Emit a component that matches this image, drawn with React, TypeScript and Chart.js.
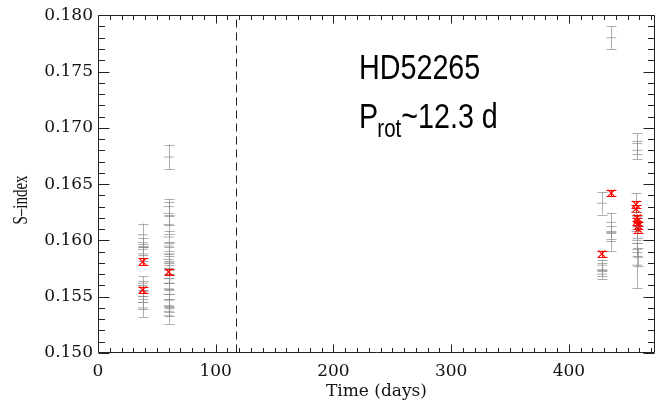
import { useEffect, useRef } from "react";
import { Chart, registerables } from "chart.js";

Chart.register(...registerables);

// ---- Data ----
const grayTime = [
  38, 38, 38, 38, 38, 38, 38, 38, 38,
  60, 60, 60, 60, 60, 60, 60, 60, 60, 60, 60, 60, 60, 60, 60, 60, 60, 60,
  436, 428, 436, 436, 436, 428, 428, 428,
  458, 458, 457, 458, 458, 458, 459, 458,
];
const grayS = [
  0.1605, 0.1598, 0.1592, 0.1588, 0.1562, 0.1560, 0.155, 0.1545, 0.154,
  0.1674, 0.163, 0.1624, 0.1614, 0.1603, 0.1595, 0.1588, 0.1583, 0.158, 0.1575, 0.1566, 0.1562, 0.1557, 0.1552, 0.1547, 0.1542, 0.1537, 0.1533,
  0.178, 0.1633, 0.1616, 0.1607, 0.1599, 0.1578, 0.1574, 0.157,
  0.1686, 0.168, 0.1625, 0.1612, 0.16, 0.1592, 0.1585, 0.1578,
];
const grayErr = [
  0.001, 0.0004, 0.0005, 0.0006, 0.0006, 0.0004, 0.0005, 0.0006, 0.0008,
  0.0011, 0.0007, 0.001, 0.0008, 0.0005, 0.0004, 0.0006, 0.0005, 0.0006, 0.0005, 0.0004, 0.0005, 0.0005, 0.0004, 0.0005, 0.0006, 0.0004, 0.0007,
  0.001, 0.001, 0.0008, 0.0006, 0.0008, 0.0005, 0.0006, 0.0004,
  0.0009, 0.0008, 0.0017, 0.001, 0.001, 0.0006, 0.0008, 0.002,
];
const redTime = [38, 38, 60, 428, 436, 457, 457, 458, 458, 459, 459];
const redS = [0.1581, 0.1556, 0.1572, 0.1588, 0.1642, 0.1632, 0.1628, 0.162, 0.1617, 0.1613, 0.161];
const redErr = [0.0003, 0.0003, 0.0003, 0.0003, 0.0003, 0.0003, 0.0003, 0.0003, 0.0003, 0.0003, 0.0003];

const xTickValues = [0, 100, 200, 300, 400];
const yTickValues = [0.15, 0.155, 0.16, 0.165, 0.17, 0.175, 0.18];
const xMinorStep = 10;
const yMinorStep = 0.001;
const xMin = 0;
const xMax = 473;
const yMin = 0.15;
const yMax = 0.18;
const dividerTime = 117.5;

const starName = "HD52265";
const periodMain = "P";
const periodSub = "rot";
const periodRest = "~12.3 d";
const xTitle = "Time (days)";
const yTitle = "S–index";

const GRAY = "rgba(140,140,140,0.7)";
const RED = "rgb(255,0,0)";

const errorBarPlugin = {
  id: "errorBars",
  beforeDatasetsDraw(chart: any) {
    const ctx = chart.ctx;
    const xs = chart.scales.x;
    const ys = chart.scales.y;
    chart.data.datasets.forEach((ds: any) => {
      const errs: number[] = ds.errorBars || [];
      ctx.save();
      ctx.strokeStyle = ds.barColor;
      ctx.lineWidth = 1;
      ds.data.forEach((p: any, i: number) => {
        const e = errs[i] || 0;
        const px = Math.round(xs.getPixelForValue(p.x)) + 0.5;
        const y1 = ys.getPixelForValue(p.y - e);
        const y2 = ys.getPixelForValue(p.y + e);
        const cw = ds.capHalf;
        ctx.beginPath();
        ctx.moveTo(px, y1);
        ctx.lineTo(px, y2);
        ctx.moveTo(px - cw, Math.round(y1) + 0.5);
        ctx.lineTo(px + cw, Math.round(y1) + 0.5);
        ctx.moveTo(px - cw, Math.round(y2) + 0.5);
        ctx.lineTo(px + cw, Math.round(y2) + 0.5);
        ctx.stroke();
      });
      ctx.restore();
    });
  },
};

const framePlugin = {
  id: "frameTicks",
  afterDraw(chart: any) {
    const ctx = chart.ctx;
    const { left, right, top, bottom } = chart.chartArea;
    const xs = chart.scales.x;
    const ys = chart.scales.y;
    ctx.save();
    ctx.strokeStyle = "#222";
    ctx.lineWidth = 1;
    const L = Math.round(left) + 0.5;
    const R = Math.round(right) - 0.5;
    const T = Math.round(top) + 0.5;
    const B = Math.round(bottom) - 0.5;
    ctx.beginPath();
    ctx.rect(L, T, R - L, B - T);
    ctx.stroke();
    // x ticks
    ctx.beginPath();
    for (let v = xMin; v <= xMax + 1e-9; v += xMinorStep) {
      const major = Math.abs(v % 100) < 1e-9;
      const len = major ? 8 : 4.5;
      const px = Math.round(xs.getPixelForValue(v)) + 0.5;
      ctx.moveTo(px, B);
      ctx.lineTo(px, B - len);
      ctx.moveTo(px, T);
      ctx.lineTo(px, T + len);
    }
    // y ticks
    for (let k = 0; k <= Math.round((yMax - yMin) / yMinorStep); k++) {
      const v = yMin + k * yMinorStep;
      const major = k % 5 === 0;
      const len = major ? 11 : 6.5;
      const py = Math.round(ys.getPixelForValue(v)) + 0.5;
      ctx.moveTo(L, py);
      ctx.lineTo(L + len, py);
      ctx.moveTo(R, py);
      ctx.lineTo(R - len, py);
    }
    ctx.stroke();
    // dashed divider
    const dx = Math.round(xs.getPixelForValue(dividerTime)) + 0.5;
    ctx.setLineDash([8, 5]);
    ctx.beginPath();
    ctx.moveTo(dx, B);
    ctx.lineTo(dx, T);
    ctx.stroke();
    ctx.setLineDash([]);

    // y title (rotated, stretched like the reference)
    ctx.fillStyle = "#111";
    ctx.save();
    ctx.translate(27, 200);
    ctx.rotate(-Math.PI / 2);
    ctx.scale(1, 1.4);
    ctx.font = '15px "Liberation Serif", serif';
    ctx.textAlign = "center";
    ctx.textBaseline = "alphabetic";
    ctx.fillText(yTitle, 0, 0);
    ctx.restore();

    // annotation
    ctx.fillStyle = "#000";
    ctx.textAlign = "left";
    ctx.textBaseline = "alphabetic";
    ctx.save();
    ctx.translate(359, 79.3);
    ctx.scale(0.82, 1);
    ctx.font = '35px "Liberation Sans", Arial, sans-serif';
    ctx.fillText(starName, 0, 0);
    ctx.restore();

    ctx.save();
    ctx.translate(359, 128.3);
    ctx.scale(0.82, 1);
    ctx.font = '35px "Liberation Sans", Arial, sans-serif';
    ctx.fillText(periodMain, 0, 0);
    let w = ctx.measureText(periodMain).width;
    ctx.font = '25px "Liberation Sans", Arial, sans-serif';
    ctx.fillText(periodSub, w - 1, 8.4);
    w += ctx.measureText(periodSub).width - 1;
    ctx.font = '35px "Liberation Sans", Arial, sans-serif';
    ctx.fillText(periodRest, w, 0);
    ctx.restore();

    ctx.restore();
  },
};

export default function App() {
  const canvasRef = useRef<HTMLCanvasElement | null>(null);

  useEffect(() => {
    const canvas = canvasRef.current;
    if (!canvas) return;
    const grayData = grayTime.map((t, i) => ({ x: t, y: grayS[i] }));
    const redData = redTime.map((t, i) => ({ x: t, y: redS[i] }));
    const tickFont = { family: '"DejaVu Serif", serif', size: 17 };

    const chart = new Chart(canvas, {
      type: "scatter",
      data: {
        datasets: [
          {
            label: "S-index",
            data: grayData,
            errorBars: grayErr,
            barColor: GRAY,
            capHalf: 5,
            pointStyle: "line",
            radius: 5,
            borderColor: GRAY,
            backgroundColor: GRAY,
            borderWidth: 1,
          } as any,
          {
            label: "S-index (binned)",
            data: redData,
            errorBars: redErr,
            barColor: RED,
            capHalf: 5,
            pointStyle: "crossRot",
            radius: 5,
            borderColor: RED,
            backgroundColor: RED,
            borderWidth: 1.2,
          } as any,
        ],
      },
      options: {
        animation: false,
        responsive: false,
        maintainAspectRatio: false,
        layout: { padding: { top: 14, right: 6, left: 0, bottom: 0 } },
        plugins: { legend: { display: false }, tooltip: { enabled: false } },
        scales: {
          x: {
            type: "linear",
            min: xMin,
            max: xMax,
            grid: { display: false, drawTicks: false },
            border: { display: false },
            afterBuildTicks: (s: any) => {
              s.ticks = xTickValues.map((v) => ({ value: v }));
            },
            afterFit: (s: any) => {
              s.height = 47;
            },
            ticks: {
              font: tickFont,
              color: "#111",
              padding: 8,
              maxRotation: 0,
              autoSkip: false,
              callback: (v: any) => String(v),
            },
            title: {
              display: true,
              text: xTitle,
              color: "#111",
              font: { family: '"DejaVu Serif", serif', size: 17, lineHeight: 1 },
              padding: { top: 0, bottom: 0 },
            },
          },
          y: {
            type: "linear",
            min: yMin,
            max: yMax,
            grid: { display: false, drawTicks: false },
            border: { display: false },
            afterBuildTicks: (s: any) => {
              s.ticks = yTickValues.map((v) => ({ value: v }));
            },
            afterFit: (s: any) => {
              s.width = 98;
            },
            ticks: {
              font: tickFont,
              color: "#111",
              padding: 5,
              autoSkip: false,
              callback: (v: any) => Number(v).toFixed(3),
            },
          },
        },
      } as any,
      plugins: [errorBarPlugin, framePlugin],
    });
    return () => chart.destroy();
  }, []);

  return (
    <div style={{ position: "absolute", left: 0, top: 0, width: 661, height: 400, background: "#fff" }}>
      <canvas ref={canvasRef} width={661} height={400} style={{ display: "block", width: 661, height: 400 }} />
    </div>
  );
}
